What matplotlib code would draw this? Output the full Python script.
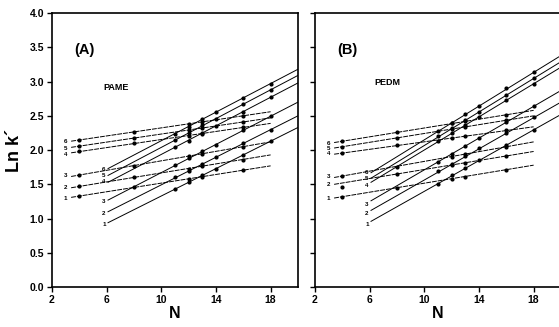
import matplotlib.pyplot as plt

plt.rcParams["font.family"] = ["Liberation Sans", "DejaVu Sans"]
plt.rcParams["font.weight"] = "bold"

# carbon number N where markers sit
flat_n = [4, 8, 12, 13, 16]
steep_n = [11, 12, 13, 14, 16, 18]

# line ends (N) of the fitted lines
flat_span = [3.4, 18]
steep_span = [6.1, 20]

# ---- (A) PAME, lines 1..6 ----
pame_flat_ends = [[1.31, 1.77], [1.45, 1.93], [1.615, 2.12],
                  [1.96, 2.39], [2.04, 2.47], [2.13, 2.56]]
pame_flat_pts = [[1.33, 1.46, 1.58, 1.61, 1.71],
                 [1.47, 1.60, 1.73, 1.77, 1.86],
                 [1.635, 1.77, 1.91, 1.95, 2.05],
                 [1.98, 2.10, 2.21, 2.24, 2.33],
                 [2.06, 2.18, 2.30, 2.32, 2.41],
                 [2.15, 2.27, 2.38, 2.41, 2.50]]
pame_steep_ends = [[0.94, 2.33], [1.10, 2.50], [1.27, 2.70],
                   [1.53, 2.98], [1.63, 3.09], [1.73, 3.18]]
pame_steep_pts = [[1.43, 1.53, 1.63, 1.73, 1.93, 2.13],
                  [1.60, 1.70, 1.80, 1.90, 2.10, 2.30],
                  [1.78, 1.88, 1.98, 2.08, 2.29, 2.50],
                  [2.04, 2.14, 2.25, 2.35, 2.56, 2.77],
                  [2.15, 2.25, 2.36, 2.46, 2.67, 2.88],
                  [2.24, 2.34, 2.45, 2.55, 2.76, 2.97]]
pame_flat_lab = [1.29, 1.46, 1.63, 1.94, 2.03, 2.12]
pame_steep_lab = [0.92, 1.07, 1.25, 1.54, 1.635, 1.72]

# ---- (B) PEDM, lines 1..6 ----
pedm_flat_ends = [[1.30, 1.78], [1.50, 1.98], [1.60, 2.12],
                  [1.94, 2.34], [2.03, 2.50], [2.11, 2.58]]
pedm_flat_pts = [[1.32, 1.45, 1.58, 1.61, 1.71],
                 [1.46, 1.65, 1.78, 1.81, 1.91],
                 [1.62, 1.76, 1.90, 1.94, 2.05],
                 [1.96, 2.07, 2.18, 2.21, 2.29],
                 [2.05, 2.18, 2.31, 2.34, 2.44],
                 [2.13, 2.26, 2.39, 2.42, 2.51]]
pedm_steep_ends = [[0.96, 2.52], [1.12, 2.70], [1.26, 2.87],
                   [1.53, 3.21], [1.59, 3.29], [1.67, 3.38]]
pedm_steep_pts = [[1.51, 1.63, 1.74, 1.85, 2.08, 2.30],
                  [1.69, 1.80, 1.91, 2.03, 2.25, 2.48],
                  [1.83, 1.95, 2.06, 2.18, 2.41, 2.64],
                  [2.13, 2.25, 2.37, 2.49, 2.73, 2.97],
                  [2.20, 2.32, 2.44, 2.56, 2.81, 3.05],
                  [2.28, 2.40, 2.53, 2.65, 2.90, 3.14]]
pedm_flat_lab = [1.30, 1.50, 1.61, 1.95, 2.02, 2.10]
pedm_steep_lab = [0.92, 1.08, 1.21, 1.49, 1.59, 1.67]

panels = [
    ("(A)", "PAME", 6.7, 2.91, pame_flat_ends, pame_flat_pts, pame_steep_ends,
     pame_steep_pts, pame_flat_lab, pame_steep_lab),
    ("(B)", "PEDM", 7.3, 2.99, pedm_flat_ends, pedm_flat_pts, pedm_steep_ends,
     pedm_steep_pts, pedm_flat_lab, pedm_steep_lab),
]

fig = plt.figure(figsize=(5.59, 3.27), dpi=100)
ax_a = fig.add_axes([0.093, 0.122, 0.440, 0.838])
ax_b = fig.add_axes([0.5635, 0.122, 0.440, 0.838])

for ax, (tag, name, nx, ny, fe, fp, se, sp, fl, sl) in zip([ax_a, ax_b], panels):
    for i in range(6):
        ax.plot(flat_span, fe[i], '-', color='black', lw=0.7, dashes=(5, 1))
        ax.plot(flat_n, fp[i], 'o', color='black', ms=2.0)
        ax.plot(steep_span, se[i], '-', color='black', lw=0.7)
        ax.plot(steep_n, sp[i], 'o', color='black', ms=2.0)
        ax.text(3.0, fl[i], str(i + 1), fontsize=4.5, ha='center', va='center')
        ax.text(5.8, sl[i], str(i + 1), fontsize=4.5, ha='center', va='center')
    ax.text(4.4, 3.46, tag, fontsize=10.5, ha='center', va='center')
    ax.text(nx, ny, name, fontsize=6.5, ha='center', va='center')
    ax.set_xlim(2, 20)
    ax.set_ylim(0, 4)
    ax.set_xticks([2, 6, 10, 14, 18])
    ax.set_yticks([0, 0.5, 1.0, 1.5, 2.0, 2.5, 3.0, 3.5, 4.0])
    ax.tick_params(direction='out', length=3.5, width=1, labelsize=7.5, pad=2)
    for s in ax.spines.values():
        s.set_linewidth(1.2)
    ax.set_xlabel("N", fontsize=11.5, fontweight='bold', labelpad=1)

ax_a.set_yticklabels(["0.0", "0.5", "1.0", "1.5", "2.0", "2.5", "3.0", "3.5", "4.0"])
ax_b.set_yticklabels([])
ax_a.set_ylabel("Ln k\u00b4", fontsize=13, fontweight='bold', labelpad=5)

fig.savefig("out.png", dpi=100)
